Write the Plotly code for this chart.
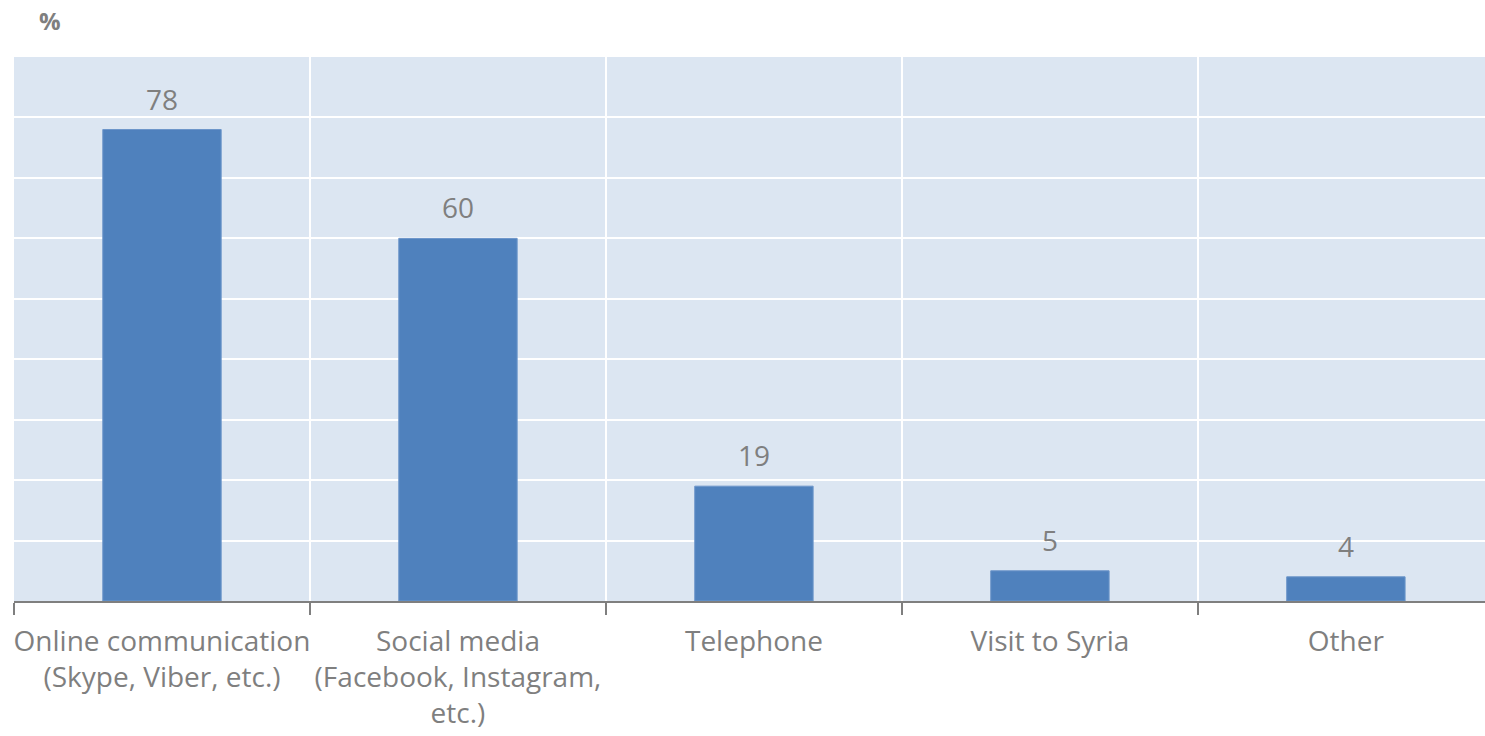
import plotly.graph_objects as go

categories = [
    "Online communication<br>(Skype, Viber, etc.)",
    "Social media<br>(Facebook, Instagram,<br>etc.)",
    "Telephone",
    "Visit to Syria",
    "Other",
]
shares = [78, 60, 19, 5, 4]

gray = "#7f7f7f"

fig = go.Figure(
    go.Bar(
        x=categories,
        y=shares,
        width=0.4,
        marker=dict(color="#4f81bd", line=dict(color="#6d96ca", width=1)),
        hoverinfo="x+y",
    )
)

# value labels above the bars
for cat, val in zip(categories, shares):
    fig.add_annotation(
        x=cat,
        y=val,
        text=str(val),
        showarrow=False,
        yanchor="bottom",
        yshift=10,
        font=dict(family="Open Sans", size=28, color=gray),
    )

fig.update_layout(
    width=1485,
    height=736,
    margin=dict(l=14, r=0, t=57, b=135),
    paper_bgcolor="white",
    plot_bgcolor="#dce6f2",
    showlegend=False,
    font=dict(family="Open Sans", color=gray),
)

fig.update_xaxes(
    type="category",
    range=[-0.5, 4.47],
    tickson="boundaries",
    tickangle=0,
    automargin=False,
    ticks="outside",
    ticklen=12,
    tickwidth=2,
    tickcolor=gray,
    ticklabelstandoff=14,
    showline=True,
    linecolor=gray,
    linewidth=2,
    showgrid=True,
    gridcolor="white",
    gridwidth=2,
    tickfont=dict(family="Open Sans", size=28, color=gray),
)

fig.update_yaxes(
    range=[0, 90],
    dtick=10,
    showgrid=True,
    gridcolor="white",
    gridwidth=2,
    showticklabels=False,
    zeroline=False,
    automargin=False,
)

fig.add_annotation(
    text="<b>%</b>",
    xref="paper",
    yref="paper",
    x=0.0245,
    y=1.0,
    yshift=37,
    xanchor="center",
    yanchor="middle",
    showarrow=False,
    font=dict(family="Open Sans", size=24, color=gray),
)

fig.write_html("out.html")
